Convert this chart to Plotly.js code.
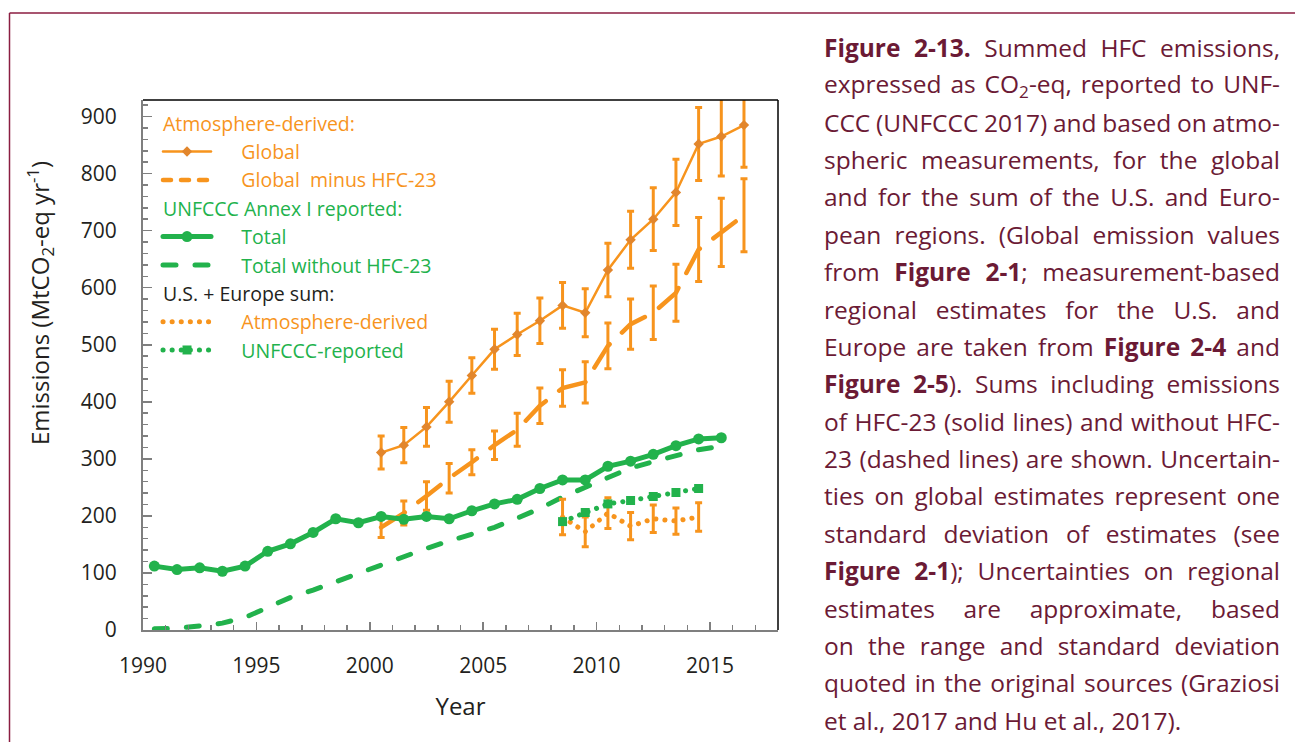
<!DOCTYPE html>
<html><head><meta charset="utf-8">
<script src="https://cdn.plot.ly/plotly-3.0.1.min.js"></script>
<style>
html,body{margin:0;padding:0;background:#fff;}
#chart{width:1295px;height:742px;}
.scatterlayer .js-line{stroke-linecap:round;}
.legend .js-line{stroke-linecap:round;}
</style></head><body><div id="chart"></div>
<script>
// ---------- data ----------
const yearsGlobal = [2000.5,2001.5,2002.5,2003.5,2004.5,2005.5,2006.5,2007.5,2008.5,2009.5,2010.5,2011.5,2012.5,2013.5,2014.5,2015.5,2016.5];
const globalEmis = [311,324,356,400,446,492,518,542,569,556,631,684,720,767,852,865,885];
const globalErr = [29,31,34,36,31,35,37,40,40,42,47,50,55,58,64,69,74];
const globalNo23 = [180,205,235,266,294,324,351,393,424,434,498,536,556,591,667,697,727];
const globalNo23Err = [18,21,25,26,22,25,29,31,32,36,40,44,47,50,56,60,64];

const yearsUnfccc = [1990.5,1991.5,1992.5,1993.5,1994.5,1995.5,1996.5,1997.5,1998.5,1999.5,2000.5,2001.5,2002.5,2003.5,2004.5,2005.5,2006.5,2007.5,2008.5,2009.5,2010.5,2011.5,2012.5,2013.5,2014.5,2015.5];
const unfcccTotal = [112,106,109,103,112,138,151,171,195,188,199,194,199,195,209,221,229,248,263,263,287,296,308,323,335,337];
const unfcccNo23 = [2,3,7,12,22,40,57,70,85,99,114,128,143,156,168,180,196,213,233,250,268,284,295,306,316,322];

const yearsRegional = [2008.5,2009.5,2010.5,2011.5,2012.5,2013.5,2014.5];
const regionalAtm = [198,172,205,182,195,191,198];
const regionalAtmErr = [31,26,27,24,24,23,25];
const regionalUnfccc = [190,206,221,227,234,241,248];

const xTickVals = [1990,1995,2000,2005,2010,2015];
const yTickVals = [0,100,200,300,400,500,600,700,800,900];

const captionLines = [
  "<b>Figure 2-13.</b> Summed HFC emissions,",
  "expressed as CO<sub>2</sub>-eq, reported to UNF-",
  "CCC (UNFCCC 2017) and based on atmo-",
  "spheric measurements, for the global",
  "and for the sum of the U.S. and Euro-",
  "pean regions. (Global emission values",
  "from <b>Figure 2-1</b>; measurement-based",
  "regional estimates for the U.S. and",
  "Europe are taken from <b>Figure 2-4</b> and",
  "<b>Figure 2-5</b>). Sums including emissions",
  "of HFC-23 (solid lines) and without HFC-",
  "23 (dashed lines) are shown. Uncertain-",
  "ties on global estimates represent one",
  "standard deviation of estimates (see",
  "<b>Figure 2-1</b>); Uncertainties on regional",
  "estimates are approximate, based",
  "on the range and standard deviation",
  "quoted in the original sources (Graziosi",
  "et al., 2017 and Hu et al., 2017)."
];

// ---------- style ----------
const ORANGE = '#F7941D';
const GREEN = '#22B24C';
const MAROON = '#6B1A35';
const BORDER = '#8B1D41';
const INK = '#231F20';
const FONT = 'Open Sans, Noto Sans, sans-serif';

const W = 1295, H = 742;
const ML = 143, MR = 517, MT = 100, MB = 112;
const PW = W - ML - MR, PH = H - MT - MB;
const px = v => (v - ML) / PW;
const py = v => (H - MB - v) / PH;

const sp = '\u00a0\u00a0\u00a0\u00a0\u00a0';
const nm = (t, c) => '<span style="color:' + c + '">' + sp + t + '</span>';
const LEG = 19.5;

const traces = [
  {
    x: yearsGlobal, y: globalEmis, type: 'scatter', mode: 'lines+markers',
    name: nm('Global', ORANGE), legendgroup: 'atm',
    legendgrouptitle: {text: 'Atmosphere-derived:', font: {color: ORANGE, size: LEG, family: FONT}},
    line: {color: ORANGE, width: 2.5},
    marker: {symbol: 'diamond', size: 8, color: '#E2862C'},
    error_y: {type: 'data', array: globalErr, visible: true, color: ORANGE, thickness: 3, width: 3.5}
  },
  {
    x: yearsGlobal, y: globalNo23, type: 'scatter', mode: 'lines',
    name: nm('Global\u00a0 minus HFC-23', ORANGE), legendgroup: 'atm',
    line: {color: ORANGE, width: 4.5, dash: '28px,17px'},
    error_y: {type: 'data', array: globalNo23Err, visible: true, color: ORANGE, thickness: 3, width: 3.5}
  },
  {
    x: yearsUnfccc, y: unfcccTotal, type: 'scatter', mode: 'lines+markers',
    name: nm('Total', GREEN), legendgroup: 'unf',
    legendgrouptitle: {text: 'UNFCCC Annex I reported:', font: {color: GREEN, size: LEG, family: FONT}},
    line: {color: GREEN, width: 5},
    marker: {symbol: 'circle', size: 11, color: GREEN}
  },
  {
    x: yearsUnfccc, y: unfcccNo23, type: 'scatter', mode: 'lines',
    name: nm('Total without HFC-23', GREEN), legendgroup: 'unf',
    line: {color: GREEN, width: 5, dash: '13px,19px'}
  },
  {
    x: yearsRegional, y: regionalAtm, type: 'scatter', mode: 'lines',
    name: nm('Atmosphere-derived', ORANGE), legendgroup: 'reg',
    legendgrouptitle: {text: 'U.S. + Europe sum:', font: {color: INK, size: LEG, family: FONT}},
    line: {color: ORANGE, width: 5, dash: '0.1px,9px'},
    error_y: {type: 'data', array: regionalAtmErr, visible: true, color: ORANGE, thickness: 3, width: 3.5}
  },
  {
    x: yearsRegional, y: regionalUnfccc, type: 'scatter', mode: 'lines+markers',
    name: nm('UNFCCC-reported', GREEN), legendgroup: 'reg',
    line: {color: GREEN, width: 5, dash: '0.1px,9px'},
    marker: {symbol: 'square', size: 9, color: GREEN}
  }
];

const annotations = [];
annotations.push({
  xref: 'paper', yref: 'paper', x: px(40), y: py(303), xanchor: 'center', yanchor: 'middle',
  textangle: -90, showarrow: false,
  text: 'Emissions (MtCO<sub>2</sub>-eq yr<sup>-1</sup>)',
  font: {family: FONT, size: 24, color: INK}
});
const CAP_LEFT = 822, CAP_RIGHT = 1278, CAP_TOP = 47.5, CAP_STEP = 37.37;
const captionStart = annotations.length;
captionLines.forEach((t, i) => {
  annotations.push({
    xref: 'paper', yref: 'paper', x: px(CAP_LEFT), y: py(CAP_TOP + i * CAP_STEP),
    xanchor: 'left', yanchor: 'middle', align: 'left', showarrow: false,
    text: t, font: {family: FONT, size: 24.5, color: MAROON}
  });
});

const shapes = [
  {type: 'line', xref: 'paper', yref: 'paper', x0: px(9.5), x1: px(W + 5), y0: py(13), y1: py(13), line: {color: BORDER, width: 1.5}},
  {type: 'line', xref: 'paper', yref: 'paper', x0: px(9.5), x1: px(9.5), y0: py(13), y1: py(H + 5), line: {color: BORDER, width: 1.5}},
  {type: 'line', xref: 'paper', yref: 'paper', x0: 0, x1: 1, y0: 1, y1: 1, line: {color: '#000', width: 1.5}},
  {type: 'line', xref: 'paper', yref: 'paper', x0: 1, x1: 1, y0: 0, y1: 1, line: {color: '#000', width: 1.5}}
];

const layout = {
  width: W, height: H,
  margin: {l: ML, r: MR, t: MT, b: MB, pad: 0},
  paper_bgcolor: '#fff', plot_bgcolor: '#fff',
  font: {family: FONT, color: INK},
  showlegend: true,
  legend: {
    x: px(158), y: py(104), xanchor: 'left', yanchor: 'top',
    bgcolor: 'rgba(0,0,0,0)', borderwidth: 0,
    traceorder: 'grouped', tracegroupgap: 0, itemwidth: 48,
    font: {family: FONT, size: LEG, color: ORANGE}
  },
  xaxis: {
    range: [1990, 2018], tickmode: 'array', tickvals: xTickVals, ticktext: xTickVals.map(String),
    ticks: 'inside', ticklen: 8, tickwidth: 1.5, tickcolor: '#7f7f7f',
    minor: {dtick: 1, tick0: 1990, ticks: 'inside', ticklen: 5, tickwidth: 1.5, tickcolor: '#7f7f7f', showgrid: false},
    showline: true, linecolor: '#7f7f7f', linewidth: 2,
    showgrid: false, zeroline: false,
    tickfont: {family: FONT, size: 21, color: INK}, ticklabelstandoff: 16,
    title: {text: 'Year', font: {family: FONT, size: 24, color: INK}, standoff: 20}
  },
  yaxis: {
    range: [0, 929], tickmode: 'array', tickvals: yTickVals, ticktext: yTickVals.map(String),
    ticks: 'inside', ticklen: 9, tickwidth: 1.5, tickcolor: '#7f7f7f',
    minor: {dtick: 20, tick0: 0, ticks: 'inside', ticklen: 5, tickwidth: 1.5, tickcolor: '#7f7f7f', showgrid: false},
    showline: true, linecolor: '#7f7f7f', linewidth: 2,
    showgrid: false, zeroline: false,
    tickfont: {family: FONT, size: 21, color: INK}, ticklabelstandoff: 20
  },
  annotations: annotations,
  shapes: shapes
};

const gd = document.getElementById('chart');
Plotly.newPlot(gd, traces, layout, {staticPlot: true, displayModeBar: false}).then(finish);

function finish() {
  // justify caption lines (all but the last)
  const target = CAP_RIGHT - CAP_LEFT;
  gd.querySelectorAll('g.annotation').forEach(g => {
    const k = +g.getAttribute('data-index') - captionStart;
    if (k < 0 || k >= captionLines.length - 1) return;
    const t = g.querySelector('text.annotation-text');
    if (!t) return;
    t.style.wordSpacing = '0px';
    const w = t.getComputedTextLength();
    const n = (t.textContent.match(/[ \u00a0]/g) || []).length;
    if (n > 0) t.style.wordSpacing = ((target - w) / n) + 'px';
  });
  // shorter dashes for the legend sample of the dashed orange series
  gd.querySelectorAll('.legend g.traces').forEach(g => {
    if (g.textContent.indexOf('minus') >= 0) {
      const p = g.querySelector('path.js-line');
      if (p) p.style.strokeDasharray = '8px,10px';
    }
  });
}
</script></body></html>
